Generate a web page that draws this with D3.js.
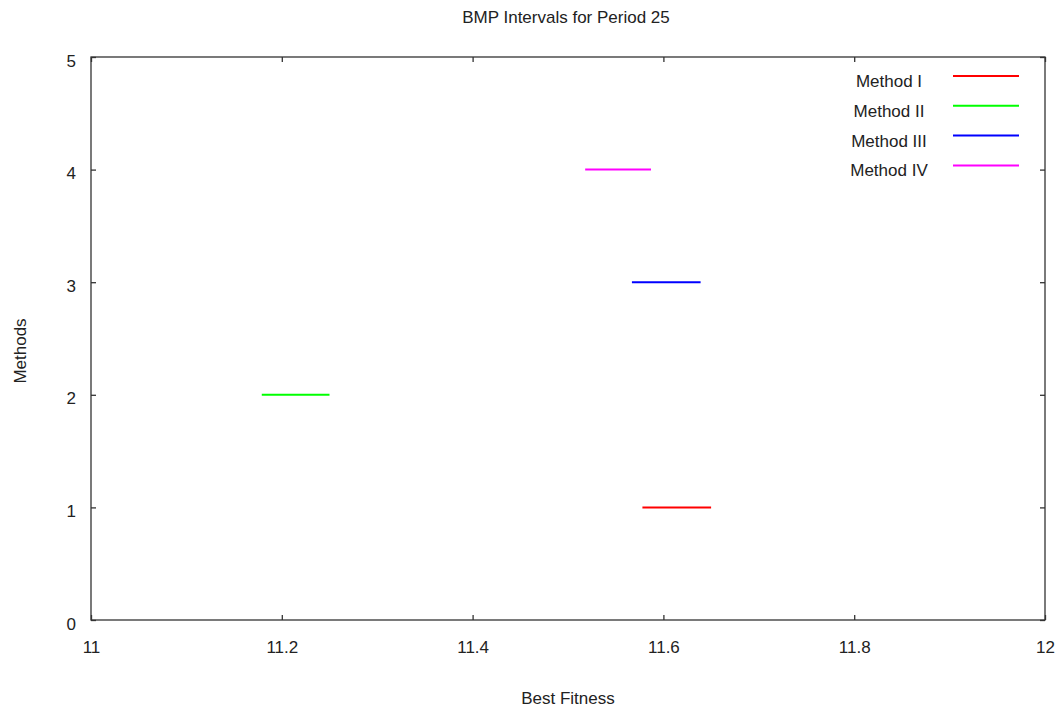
<!DOCTYPE html>
<html>
<head>
<meta charset="utf-8">
<script src="https://cdn.jsdelivr.net/npm/d3@7"></script>
<style>
  html, body { margin: 0; padding: 0; background: #fff; }
  svg { display: block; font-family: "Liberation Sans", Arial, sans-serif; }
</style>
</head>
<body>
<svg id="chart" width="1064" height="711"></svg>
<script>
// ---- data ----
const methods = ["Method I", "Method II", "Method III", "Method IV"];
const methodLevel = [1, 2, 3, 4];
const lowValues = [11.578, 11.179, 11.567, 11.518];
const highValues = [11.650, 11.250, 11.639, 11.587];
const colors = ["#ff0000", "#00ff00", "#0000ff", "#ff00ff"];
const xTickValues = [11, 11.2, 11.4, 11.6, 11.8, 12];
const xTickLabels = ["11", "11.2", "11.4", "11.6", "11.8", "12"];
const yTickValues = [0, 1, 2, 3, 4, 5];
const yTickLabels = ["0", "1", "2", "3", "4", "5"];
const title = "BMP Intervals for Period 25";
const xTitle = "Best Fitness";
const yTitle = "Methods";

// ---- layout ----
const svg = d3.select("#chart");
const L = 91, R = 1045, T = 57, B = 620;
const x = d3.scaleLinear().domain([11, 12]).range([L, R]);
const y = d3.scaleLinear().domain([0, 5]).range([B, T]);
const axisColor = "#333";
const textColor = "#222";
const fs = 17;

// frame
svg.append("rect").attr("x", L).attr("y", T).attr("width", R - L).attr("height", B - T)
  .attr("fill", "none").attr("stroke", axisColor).attr("stroke-width", 1.3);

// axes via d3 (inward ticks)
const xAxisB = d3.axisBottom(x).tickValues(xTickValues).tickSize(-5).tickPadding(0)
  .tickFormat((d, i) => xTickLabels[i]);
const gxb = svg.append("g").attr("transform", `translate(0,${B})`).call(xAxisB);
gxb.select(".domain").remove();
gxb.selectAll("line").attr("stroke", axisColor).attr("stroke-width", 1.3);
gxb.selectAll("text").attr("y", 33).attr("dy", "0").attr("font-size", fs).attr("fill", textColor)
  .attr("font-family", "Liberation Sans, Arial, sans-serif");

const xAxisT = d3.axisTop(x).tickValues(xTickValues).tickSize(-5).tickFormat("");
const gxt = svg.append("g").attr("transform", `translate(0,${T})`).call(xAxisT);
gxt.select(".domain").remove();
gxt.selectAll("line").attr("stroke", axisColor).attr("stroke-width", 1.3);

const yAxisL = d3.axisLeft(y).tickValues(yTickValues).tickSize(-5).tickPadding(0)
  .tickFormat((d, i) => yTickLabels[i]);
const gyl = svg.append("g").attr("transform", `translate(${L},0)`).call(yAxisL);
gyl.select(".domain").remove();
gyl.selectAll("line").attr("stroke", axisColor).attr("stroke-width", 1.3);
gyl.selectAll("text").attr("x", -15).attr("dy", "0.65em").attr("y", -2).attr("font-size", fs)
  .attr("fill", textColor).attr("font-family", "Liberation Sans, Arial, sans-serif");

const yAxisR = d3.axisRight(y).tickValues(yTickValues).tickSize(-5).tickFormat("");
const gyr = svg.append("g").attr("transform", `translate(${R},0)`).call(yAxisR);
gyr.select(".domain").remove();
gyr.selectAll("line").attr("stroke", axisColor).attr("stroke-width", 1.3);

// interval segments
svg.append("g").selectAll("line").data(methods).join("line")
  .attr("x1", (d, i) => x(lowValues[i]))
  .attr("x2", (d, i) => x(highValues[i]))
  .attr("y1", (d, i) => y(methodLevel[i]))
  .attr("y2", (d, i) => y(methodLevel[i]))
  .attr("stroke", (d, i) => colors[i])
  .attr("stroke-width", 2);

// legend
const leg = svg.append("g");
methods.forEach((m, i) => {
  const ly = 76 + i * 29.8;
  leg.append("line").attr("x1", 953).attr("x2", 1019).attr("y1", ly).attr("y2", ly)
    .attr("stroke", colors[i]).attr("stroke-width", 2);
  leg.append("text").attr("x", 889).attr("y", ly + 11).attr("text-anchor", "middle")
    .attr("font-size", fs).attr("fill", textColor).text(m);
});

// titles
svg.append("text").attr("x", 566).attr("y", 23).attr("text-anchor", "middle")
  .attr("font-size", fs).attr("fill", textColor).text(title);
svg.append("text").attr("x", 568).attr("y", 704).attr("text-anchor", "middle")
  .attr("font-size", fs).attr("fill", textColor).text(xTitle);
svg.append("text").attr("transform", "translate(26,351) rotate(-90)").attr("text-anchor", "middle")
  .attr("font-size", fs).attr("fill", textColor).text(yTitle);
</script>
</body>
</html>
